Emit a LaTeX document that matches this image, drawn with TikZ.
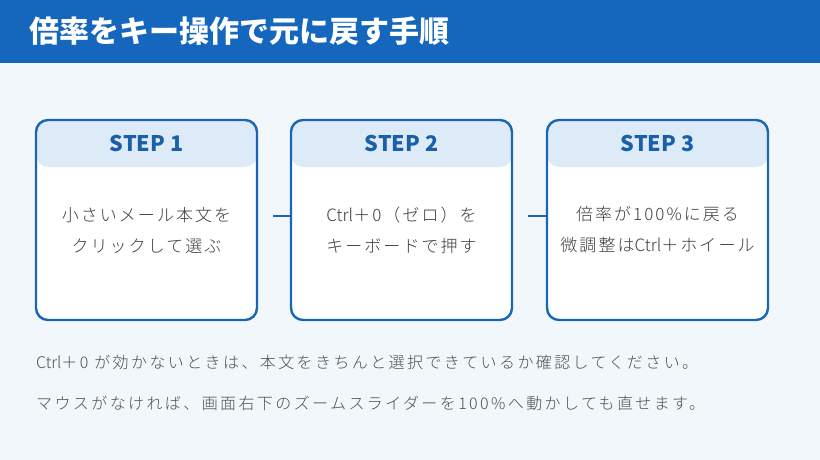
\documentclass[tikz,border=0pt]{standalone}
\usepackage{fontspec}
\setmainfont{Noto Sans CJK JP}
\newfontfamily\jpbody[LetterSpace=12]{Noto Sans CJK JP Light}
\newfontfamily\jpfoot[LetterSpace=15]{Noto Sans CJK JP Light}
\newfontfamily\jplatin{Noto Sans CJK JP Light}
\newcommand{\ctrlword}{{\jplatin Ctrl}}
\definecolor{bandblue}{HTML}{1467BD}
\definecolor{pagebg}{HTML}{F2F7FC}
\definecolor{boxline}{HTML}{1A66B5}
\definecolor{headfill}{HTML}{DDEBF8}
\definecolor{steptext}{HTML}{1A5FA8}
\definecolor{bodytext}{HTML}{3A3E42}
\definecolor{foottext}{HTML}{4A5057}
\tikzset{
  stepbox/.style={draw=boxline, line width=2.4pt, fill=white, rounded corners=12pt,
    minimum width=221pt, minimum height=200pt, inner sep=0pt,
    path picture={\fill[headfill] (path picture bounding box.north west) rectangle ([yshift=-47pt]path picture bounding box.north east);}},
  steplabel/.style={font=\bfseries\fontsize{21.5}{24}\selectfont, text=steptext},
  bodylabel/.style={font=\jpbody\fontsize{17}{31}\selectfont, text=bodytext, align=center},
  footlabel/.style={font=\jpfoot\fontsize{16}{41}\selectfont, text=foottext, anchor=west, inner sep=0pt},
  link/.style={draw=boxline, line width=1.4pt}
}
\begin{document}
\begin{tikzpicture}[x=1pt,y=-1pt]
\useasboundingbox (0,0) rectangle (820,460);
\fill[pagebg] (0,0) rectangle (820,460);
\fill[bandblue] (0,0) rectangle (820,63);
\node[anchor=west, text=white, font=\bfseries\fontsize{30}{34}\selectfont, inner sep=0pt] (title) at (29,31) {倍率をキー操作で元に戻す手順};

\node[stepbox] (b1) at (146.5,220) {};
\node[stepbox] (b2) at (401.5,220) {};
\node[stepbox] (b3) at (657.5,220) {};

\node[steplabel] (s1) at ([yshift=-25pt]b1.north) {STEP 1};
\node[steplabel] (s2) at ([yshift=-25pt]b2.north) {STEP 2};
\node[steplabel] (s3) at ([yshift=-25pt]b3.north) {STEP 3};

\node[bodylabel] (t1) at (146.5,230) {小さいメール本文を\\クリックして選ぶ};
\node[bodylabel] (t2) at (401.5,230) {\ctrlword＋0（ゼロ）を\\キーボードで押す};
\node[bodylabel] (t3) at (657.5,230) {倍率が100\%に戻る\\微調整は\ctrlword＋ホイール};

\coordinate (c1) at ([xshift=15pt,yshift=4pt]b1.east);
\coordinate (c2) at ([xshift=15pt,yshift=4pt]b2.east);
\draw[link] (c1) -- (c1 -| b2.west);
\draw[link] (c2) -- (c2 -| b3.west);

\node[footlabel] (f1) at (36,362) {\ctrlword＋0 が効かないときは、本文をきちんと選択できているか確認してください。};
\node[footlabel] (f2) at (36,403) {マウスがなければ、画面右下のズームスライダーを100\%へ動かしても直せます。};
\end{tikzpicture}
\end{document}
